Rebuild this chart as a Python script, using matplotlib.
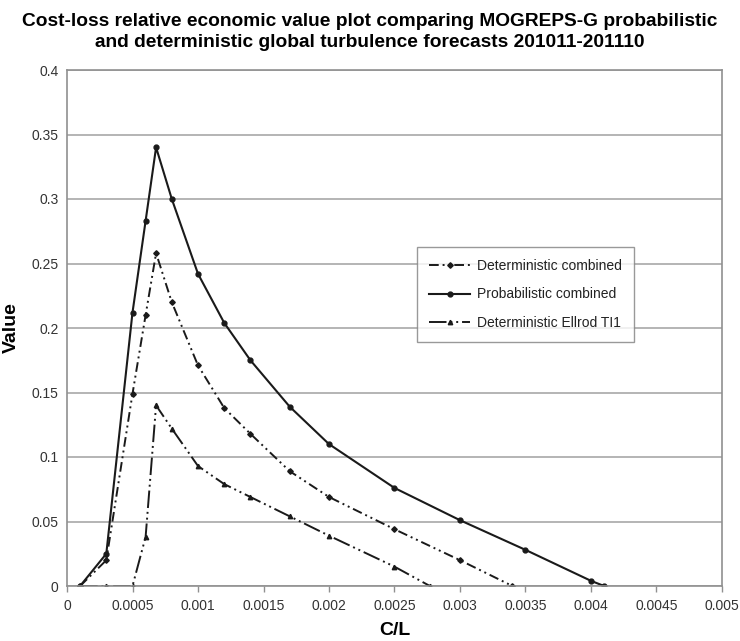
import matplotlib
matplotlib.use("Agg")
import matplotlib.pyplot as plt

plt.rcParams['font.family'] = ['Liberation Sans', 'DejaVu Sans']

# Cost/loss ratio and relative economic value for each forecast system
cl_prob = [0.0001, 0.0003, 0.0005, 0.0006, 0.00068, 0.0008, 0.001, 0.0012,
           0.0014, 0.0017, 0.002, 0.0025, 0.003, 0.0035, 0.004, 0.0041]
val_prob = [0.0, 0.025, 0.212, 0.283, 0.340, 0.300, 0.242, 0.204,
            0.175, 0.139, 0.110, 0.076, 0.051, 0.028, 0.004, 0.0]

cl_det = [0.0001, 0.0003, 0.0005, 0.0006, 0.00068, 0.0008, 0.001, 0.0012,
          0.0014, 0.0017, 0.002, 0.0025, 0.003, 0.0034]
val_det = [0.0, 0.020, 0.149, 0.210, 0.258, 0.220, 0.171, 0.138,
           0.118, 0.089, 0.069, 0.044, 0.020, 0.0]

cl_ellrod = [0.0001, 0.0003, 0.0005, 0.0006, 0.00068, 0.0008, 0.001, 0.0012,
             0.0014, 0.0017, 0.002, 0.0025, 0.00277]
val_ellrod = [0.0, 0.0, 0.0, 0.038, 0.140, 0.122, 0.093, 0.079,
              0.069, 0.054, 0.039, 0.015, 0.0]

x_ticks = [0, 0.0005, 0.001, 0.0015, 0.002, 0.0025, 0.003, 0.0035, 0.004, 0.0045, 0.005]
x_ticklabels = ['0', '0.0005', '0.001', '0.0015', '0.002', '0.0025', '0.003',
                '0.0035', '0.004', '0.0045', '0.005']
y_ticks = [0, 0.05, 0.1, 0.15, 0.2, 0.25, 0.3, 0.35, 0.4]
y_ticklabels = ['0', '0.05', '0.1', '0.15', '0.2', '0.25', '0.3', '0.35', '0.4']

fig = plt.figure(figsize=(7.4, 6.41), dpi=100)
ax = fig.add_axes([67 / 740, 1 - 586 / 641, (722 - 67) / 740, (586 - 70) / 641])

ink = '#1a1a1a'
ax.plot(cl_det, val_det, color=ink, lw=1.4, linestyle=(0, (5, 2, 1, 2, 1, 2)),
        marker='D', markersize=2.8, label='Deterministic combined')
ax.plot(cl_prob, val_prob, color=ink, lw=1.5, linestyle='-',
        marker='o', markersize=3.5, label='Probabilistic combined')
ax.plot(cl_ellrod, val_ellrod, color=ink, lw=1.4, linestyle=(0, (9, 2, 1, 2, 1, 2)),
        marker='^', markersize=3.2, label='Deterministic Ellrod TI1')

ax.set_xlim(0, 0.005)
ax.set_ylim(0, 0.4)
ax.set_xticks(x_ticks)
ax.set_xticklabels(x_ticklabels)
ax.set_yticks(y_ticks)
ax.set_yticklabels(y_ticklabels)
ax.tick_params(axis='both', labelsize=10, labelcolor='#333333', color='#909090',
               length=4, width=1.0, pad=5)
ax.tick_params(axis='y', length=0, pad=6)
ax.yaxis.grid(True, color='#a8a8a8', lw=1.2)
ax.set_axisbelow(True)
for side in ['left', 'bottom', 'top', 'right']:
    ax.spines[side].set_color('#909090')
    ax.spines[side].set_linewidth(1.2)

ax.set_xlabel('C/L', fontsize=14, fontweight='bold', labelpad=7)
ax.set_ylabel('Value', fontsize=14, fontweight='bold')
ax.yaxis.set_label_coords(-(67 - 20) / 655, 0.5)

fig.text(0.5, 0.979, 'Cost-loss relative economic value plot comparing MOGREPS-G probabilistic\n'
         'and deterministic global turbulence forecasts 201011-201110',
         ha='center', va='top', fontsize=13.8, fontweight='bold', linespacing=1.25)

leg = ax.legend(loc='upper left', bbox_to_anchor=((417 - 67) / 655, (586 - 247) / 516),
                fontsize=10, frameon=True, fancybox=False, handlelength=3.0,
                borderpad=0.85, labelspacing=1.05, handletextpad=0.5, borderaxespad=0)
leg.get_frame().set_edgecolor('#808080')
leg.get_frame().set_linewidth(1.0)
for t in leg.get_texts():
    t.set_color('#222222')

fig.savefig('out.png', dpi=100)
